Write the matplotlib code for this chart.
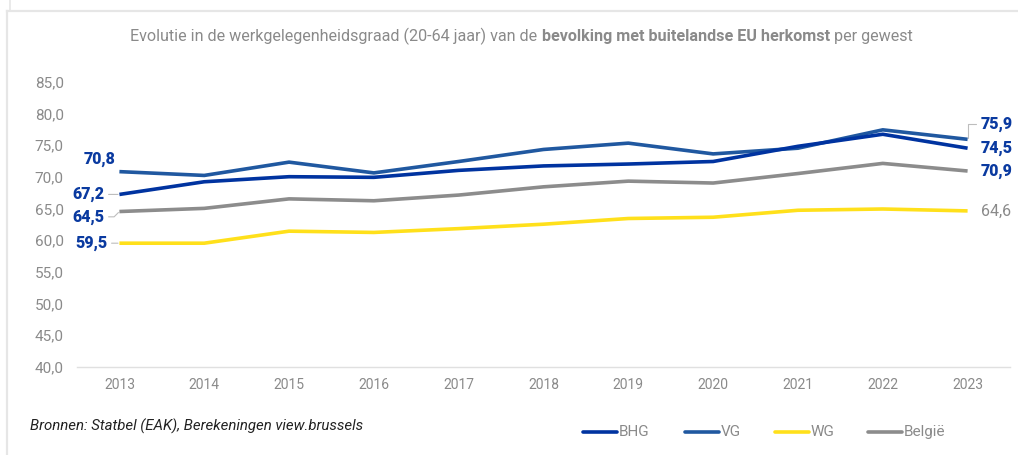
import matplotlib
matplotlib.use('Agg')
import matplotlib.pyplot as plt
from matplotlib.lines import Line2D

plt.rcParams['font.family'] = ['Roboto', 'DejaVu Sans']

# data
years = list(range(2013, 2024))
bhg = [67.2, 69.2, 70.0, 69.9, 71.0, 71.7, 72.0, 72.4, 74.8, 76.7, 74.5]
vg = [70.8, 70.2, 72.3, 70.6, 72.4, 74.3, 75.3, 73.6, 74.5, 77.4, 75.9]
wg = [59.5, 59.5, 61.4, 61.2, 61.8, 62.5, 63.4, 63.6, 64.7, 64.9, 64.6]
belgie = [64.5, 65.0, 66.5, 66.2, 67.1, 68.4, 69.3, 69.0, 70.5, 72.1, 70.9]
series_names = ['BHG', 'VG', 'WG', 'België']
yticks = [40, 45, 50, 55, 60, 65, 70, 75, 80, 85]

colors = {'BHG': '#0033a0', 'VG': '#2058a0', 'WG': '#ffe01b', 'België': '#8c8c8c'}
label_blue = '#0a3aa0'
grey_txt = '#8a8a8a'

W, H = 1018, 455
fig = plt.figure(figsize=(W / 100, H / 100), dpi=100)


def fx(px):
    return px / W


def fy(py):
    return 1 - py / H


ax = fig.add_axes([fx(77), fy(366.7), fx(1010 - 77), (366.7 - 81.7) / H])

# draw order: yellow, grey, VG, BHG
for name, vals in [('WG', wg), ('België', belgie), ('VG', vg), ('BHG', bhg)]:
    ax.plot(years, vals, color=colors[name], lw=2.6, solid_capstyle='butt',
            solid_joinstyle='round')

ax.set_xlim(2012.5, 2023.5)
ax.set_ylim(40, 85)
ax.set_xticks(years)
ax.set_xticklabels([str(y) for y in years], fontsize=10, color=grey_txt)
ax.set_yticks(yticks)
ax.set_yticklabels(['{:.1f}'.format(v).replace('.', ',') for v in yticks],
                   fontsize=11, color=grey_txt)
ax.tick_params(axis='both', length=0)
ax.tick_params(axis='y', pad=9.5)
ax.tick_params(axis='x', pad=8)
for s in ['top', 'right', 'left']:
    ax.spines[s].set_visible(False)
ax.spines['bottom'].set_color('#e0e0e0')
ax.spines['bottom'].set_linewidth(1)

# data labels (offsets in pixels)
lead = dict(arrowstyle='-', color='#bdbdbd', lw=0.8, shrinkA=1, shrinkB=1)


def lab(x, y, txt, dx, dy, ha, bold=True, color=label_blue, arrow=None):
    ax.annotate(txt, xy=(x, y), xytext=(dx, dy), textcoords='offset pixels',
                ha=ha, va='center', fontsize=11.5,
                fontweight='black' if bold else 'normal', color=color,
                arrowprops=arrow, annotation_clip=False)


def fmt(v):
    return '{:.1f}'.format(v).replace('.', ',')


lab(years[0], vg[0], fmt(vg[0]), -4, 12.7, 'right')
lab(years[0], bhg[0], fmt(bhg[0]), -15, 0, 'right', arrow=lead)
lab(years[0], belgie[0], fmt(belgie[0]), -15, -5.3, 'right',
    arrow=dict(lead, connectionstyle='angle,angleA=0,angleB=45,rad=0'))
lab(years[0], wg[0], fmt(wg[0]), -12, 0, 'right', arrow=lead)

lab(years[-1], vg[-1], fmt(vg[-1]), 13, 15.3, 'left',
    arrow=dict(lead, connectionstyle='angle,angleA=0,angleB=90,rad=0'))
lab(years[-1], bhg[-1], fmt(bhg[-1]), 13, 0, 'left')
lab(years[-1], belgie[-1], fmt(belgie[-1]), 13, 0, 'left')
lab(years[-1], wg[-1], fmt(wg[-1]), 13, 0, 'left', bold=False, color=grey_txt)

# title in three parts (normal / bold / normal)
renderer = fig.canvas.get_renderer()
parts = [('Evolutie in de werkgelegenheidsgraad (20-64 jaar) van de ', 'normal'),
         ('bevolking met buitelandse EU herkomst', 'bold'),
         (' per gewest', 'normal')]
texts = []
for s, w in parts:
    t = fig.text(0, fy(36), s, fontsize=11.6, fontweight=w, color=grey_txt,
                 va='center', ha='left')
    texts.append(t)
widths = [t.get_window_extent(renderer).width for t in texts]
x0 = (128 + 915) / 2 - sum(widths) / 2
for t, wdt in zip(texts, widths):
    t.set_x(fx(x0))
    x0 += wdt

# source
fig.text(fx(30), fy(426), 'Bronnen: Statbel (EAK), Berekeningen view.brussels',
         fontsize=10.8, style='italic', color='#222222', va='center', ha='left')

# legend drawn by hand
leg_x = [583, 685, 775, 868]
for name, x in zip(series_names, leg_x):
    fig.add_artist(Line2D([fx(x), fx(x + 34)], [fy(432), fy(432)],
                          transform=fig.transFigure, color=colors[name],
                          lw=2.6, solid_capstyle='round'))
    fig.text(fx(x + 36), fy(432), name, fontsize=11, color=grey_txt,
             va='center', ha='left')

# light frame
frame = '#e6e6e6'
fig.add_artist(Line2D([fx(7), fx(7)], [fy(11), fy(H)], transform=fig.transFigure,
                      color=frame, lw=1.6))
fig.add_artist(Line2D([fx(7), fx(W)], [fy(11), fy(11)], transform=fig.transFigure,
                      color=frame, lw=1.6))
fig.add_artist(Line2D([fx(10), fx(10)], [fy(0), fy(11)], transform=fig.transFigure,
                      color=frame, lw=1.2))

fig.savefig('out.png', dpi=100)
